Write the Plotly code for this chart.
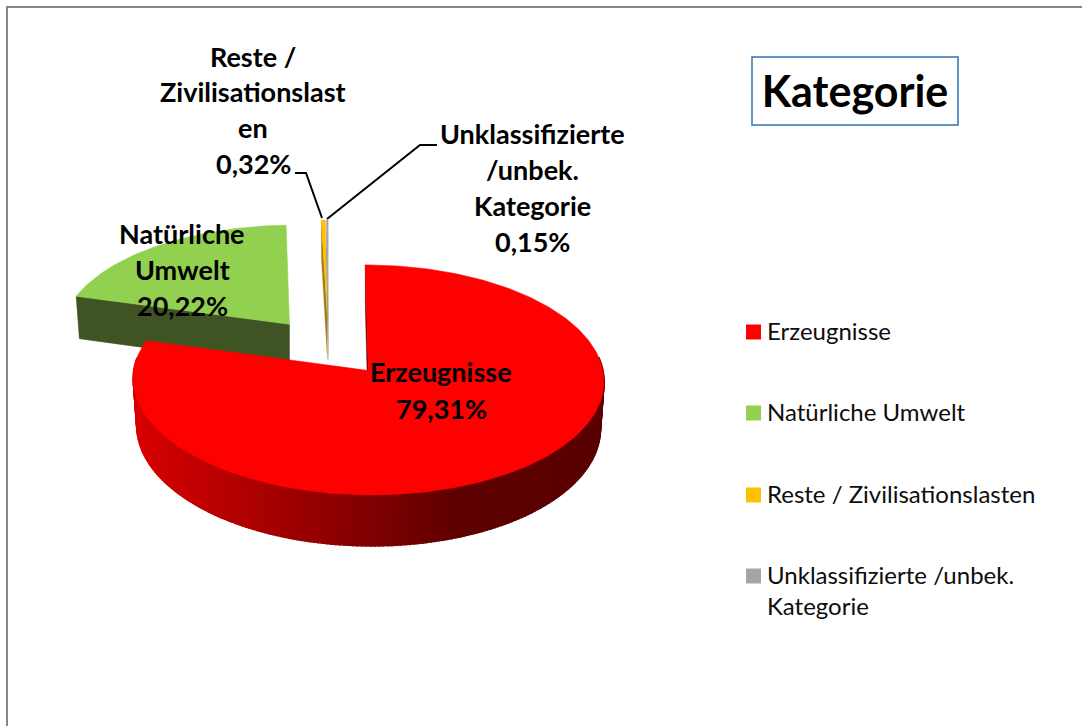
import numpy as np
import plotly.graph_objects as go

# ---- data ----
categories = ["Erzeugnisse", "Natürliche Umwelt", "Reste / Zivilisationslasten", "Unklassifizierte /unbek. Kategorie"]
values = [79.31, 20.22, 0.32, 0.15]
label_lines = [["Erzeugnisse"], ["Natürliche", "Umwelt"], ["Reste /", "Zivilisationslast", "en"], ["Unklassifizierte", "/unbek.", "Kategorie"]]
legend_lines = [["Erzeugnisse"], ["Natürliche Umwelt"], ["Reste / Zivilisationslasten"], ["Unklassifizierte /unbek.", "Kategorie"]]
title_text = "Kategorie"

# ---- style / layout ----
face_colors = ["#FF0000", "#92D050", "#FFC000", "#A5A5A5"]
side_colors = ["#800000", "#405423", "#A67C10", "#8A8A8A"]
face_line = [0.6, 0.6, 0.2, 0.2]
W, H = 1082, 726
CX, CY, RX, RY, K = 328.6, 346.9, 230.6, 110.4, 0.08   # projection of the pie plane
EXPLODE_U, EXPLODE_V = 0.28, 0.265
DEPTH = [46, 44, 42, 42]
BOTTOM_SHRINK = 0.985
label_x = [441, 182, 253, 532]
label_y = [[371, 408], [233, 269, 305], [56, 91, 127, 163], [133, 169, 205, 241]]
legend_x_mark, legend_x_text = 753.5, 765
legend_y = [[332], [413], [495], [576, 607]]
LEGEND_TEXT_DY = -1.5
LABEL_FONT = dict(family="Lato", size=27, color="#000000")
LEGEND_FONT = dict(family="Lato", size=24, color="#0d0d0d")


def project(u, v):
    s = 1.0 / (1.0 + K * v)
    return CX + RX * u * s, CY - RY * v * s, s


def slice_points(apex_u, apex_v, angles):
    return project(apex_u + np.sin(angles), apex_v + np.cos(angles))


def lower(x, y, s, ax, depth):
    return ax + (x - ax) * BOTTOM_SHRINK, y + depth * s


def red_side_shade(x):
    r = np.interp(x, [137, 460, 600], [215, 94, 90])
    return f"rgb({int(round(r))},0,0)"


fig = go.Figure()


def poly(xs, ys, color, name=None, width=0.6):
    fig.add_trace(go.Scatter(
        x=list(xs), y=list(ys), mode="lines", fill="toself", fillcolor=color,
        line=dict(color=color, width=width), hoverinfo="skip" if name is None else "text",
        text=name, showlegend=False, name=name or ""))


fractions = np.array(values) / sum(values)
starts = np.concatenate([[0], np.cumsum(fractions)[:-1]]) * 2 * np.pi
ends = np.cumsum(fractions) * 2 * np.pi

# paint far slices first, the big front slice last
for i in [1, 2, 3, 0]:
    t0, t1 = starts[i], ends[i]
    mid = (t0 + t1) / 2
    au, av = EXPLODE_U * np.sin(mid), EXPLODE_V * np.cos(mid)
    ax, ay, a_s = project(au, av)
    n = max(int(np.degrees(t1 - t0)), 3)
    angles = np.linspace(t0, t1, n + 1)
    ox, oy, os_ = slice_points(au, av, angles)
    bx, by = lower(ox, oy, os_, ax, DEPTH[i])
    abx, aby = ax, ay + DEPTH[i] * a_s

    # rim of the slice: only the part that faces the viewer
    for j in range(n):
        if np.cos(angles[j]) > 0.12 or np.cos(angles[j + 1]) > 0.12:
            continue
        col = red_side_shade((ox[j] + ox[j + 1]) / 2) if i == 0 else side_colors[i]
        poly([ox[j], ox[j + 1], bx[j + 1], bx[j], ox[j]],
             [oy[j], oy[j + 1], by[j + 1], by[j], oy[j]], col, width=1.6)
    # cut face on the leading edge
    poly([ax, ox[0], bx[0], abx, ax], [ay, oy[0], by[0], aby, ay], side_colors[i], width=face_line[i])
    # top face
    poly(np.r_[ax, ox, ax], np.r_[ay, oy, ay], face_colors[i], categories[i], width=face_line[i])

# legend marks
fig.add_trace(go.Scatter(
    x=[legend_x_mark] * 4, y=[ys[0] for ys in legend_y], mode="markers",
    marker=dict(symbol="square", size=15, color=face_colors, line=dict(width=0)),
    hoverinfo="skip", showlegend=False))

annotations = []
for i, lines in enumerate(label_lines):
    pct = f"{values[i]:.2f}%".replace(".", ",")
    for text, y in zip(lines + [pct], label_y[i]):
        annotations.append(dict(x=label_x[i], y=y, text=f"<b>{text}</b>", showarrow=False,
                                xanchor="center", yanchor="middle", font=LABEL_FONT))
for lines, ys in zip(legend_lines, legend_y):
    for text, y in zip(lines, ys):
        annotations.append(dict(x=legend_x_text, y=y + LEGEND_TEXT_DY, text=text, showarrow=False,
                                xanchor="left", yanchor="middle", font=LEGEND_FONT))

shapes = [
    dict(type="rect", x0=7, y0=7, x1=1100, y1=760, line=dict(color="#868686", width=2)),
    dict(type="rect", x0=752, y0=57, x1=958, y1=125, line=dict(color="#2E75B6", width=1.5)),
    dict(type="path", path="M 295 173 L 306 173 L 322 218", line=dict(color="#000000", width=2)),
    dict(type="path", path="M 327 219 L 420 145 L 437 145", line=dict(color="#000000", width=2)),
]

fig.update_layout(
    width=W, height=H, margin=dict(l=0, r=0, t=0, b=0),
    paper_bgcolor="#ffffff", plot_bgcolor="#ffffff", showlegend=False,
    title=dict(text=f"<b>{title_text}</b>", x=855 / W, xanchor="center", y=1 - 92 / H, yanchor="middle",
               font=dict(family="Lato", size=43, color="#000000")),
    xaxis=dict(range=[0, W], visible=False, fixedrange=True),
    yaxis=dict(range=[H, 0], visible=False, fixedrange=True),
    annotations=annotations, shapes=shapes,
)
fig.write_html("out.html", config=dict(displayModeBar=False),
               post_script="document.body.style.margin='0';document.documentElement.style.overflow='hidden';")
